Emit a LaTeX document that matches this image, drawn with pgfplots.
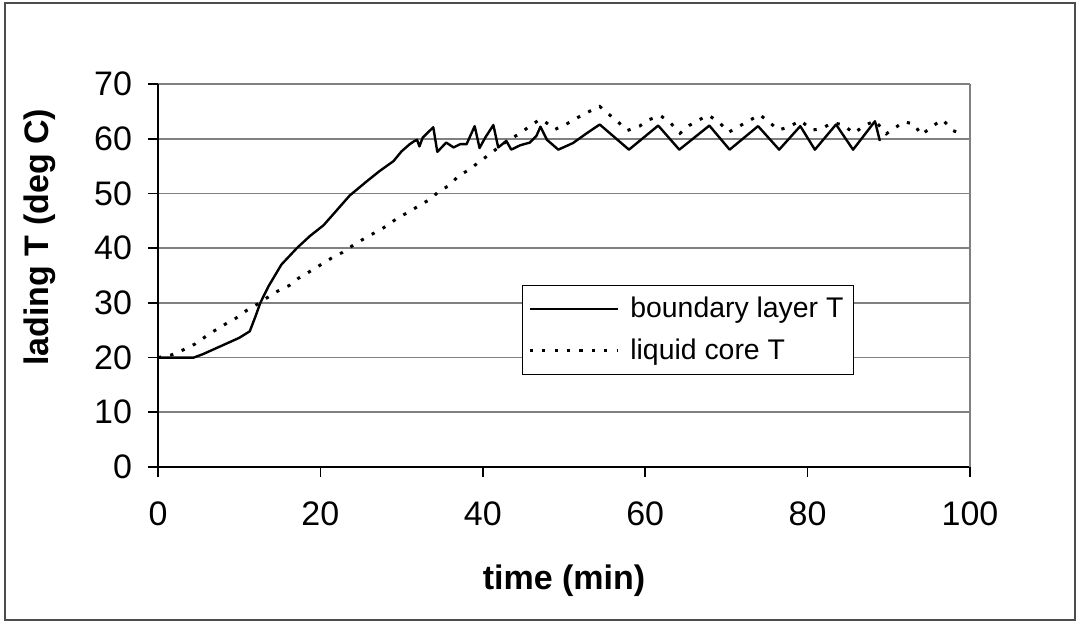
\documentclass[border=0pt]{standalone}
\usepackage{pgfplots}
\pgfplotsset{compat=1.18}
\usepackage{pgfplotstable}
\usepackage{fontspec}
\setmainfont{Liberation Sans}

\pgfplotstableread{
x y
0 20
4.4 20
5.5 20.6
7 21.6
8.5 22.6
10 23.6
11.3 24.8
12.0 27.5
12.6 30
13.6 33
15.2 37
17.1 40
18.7 42.2
20.4 44.2
22 46.9
23.6 49.6
25.7 52.2
27.3 54.1
29.0 55.9
30.0 57.7
31.0 59.0
31.5 59.5
31.9 59.8
32.2 58.6
32.6 60.2
33.9 62.1
34.4 57.6
35.5 59.3
36.4 58.4
37.2 59.0
38.0 59.0
39.0 62.3
39.6 58.3
40.3 60.2
41.3 62.5
41.9 58.4
42.9 59.6
43.5 58.0
44.6 58.8
45.8 59.3
46.6 60.5
47.1 62.2
47.9 59.8
49.3 58.0
51.1 59.2
52.8 61.0
54.4 62.6
58.0 58.0
61.6 62.4
64.2 58.0
67.9 62.4
70.4 58.0
73.9 62.3
76.5 58.0
79.1 62.3
80.9 58.0
83.5 62.6
85.6 58.0
88.3 63.2
88.9 59.6
}\boundary

\pgfplotstableread{
x y
0 20
1.7 20.5
3.1 21.4
4.6 22.5
6.2 24.2
7.8 25.7
9.6 27.2
11.0 28.7
12.4 29.9
14.4 31.9
16.2 33.2
17.3 34.5
18.9 35.9
20.4 37.3
21.5 38.3
22.7 39.2
24.1 40.6
25.8 42.1
27.3 43.3
28.2 44.1
29.5 45.5
31.0 46.7
32.5 48.1
33.5 48.9
34.6 50.4
35.8 51.4
37.0 53.2
38.4 54.4
39.4 55.6
40.7 57.0
42.0 58.5
43.2 59.8
44.4 60.8
45.8 62.3
47.0 63.5
47.3 63.5
48.9 61.7
50.2 62.6
51.6 63.8
53.0 64.9
54.4 65.9
55.5 64.5
56.7 63.0
57.8 61.5
59.3 62.3
60.5 63.5
61.9 64.2
63.1 62.9
64.3 61.0
65.4 62.4
66.7 63.5
67.8 64.3
69.1 63.0
70.3 61.2
71.6 62.3
72.8 63.3
74.1 64.4
75.3 63.0
76.4 61.6
77.6 62.1
79.1 63.3
80.6 61.6
81.7 61.8
83.0 62.9
84.3 62.6
85.7 61.0
86.9 62.3
88.3 63.3
89.7 60.9
90.8 62.0
91.8 63.1
93.1 62.7
94.0 60.7
95.5 62.4
96.6 63.5
97.9 61.5
98.7 61.0
99.2 61.5
}\core

\begin{document}
\begin{tikzpicture}
\useasboundingbox (0,0) rectangle (539pt,312pt);
\draw[black!70, line width=1pt] (2.25pt,2pt) rectangle (537.5pt,310.5pt);
\begin{axis}[
  at={(79pt,78.5pt)}, anchor=south west,
  scale only axis, width=406pt, height=191.5pt,
  xmin=0, xmax=100, ymin=0, ymax=70,
  axis lines=left,
  axis line style={-, black, line width=0.8pt},
  xtick={0,20,40,60,80}, extra x ticks={100},
  extra x tick style={grid=major, major grid style={black!50, line width=1pt}},
  ytick={0,10,...,70},
  ymajorgrids,
  major grid style={black!50, line width=0.8pt},
  tick align=outside, major tick length=5pt,
  tick style={black, line width=0.8pt},
  /pgf/number format/assume math mode=true,
  ticklabel style={font=\fontsize{17}{20}\selectfont},
  yticklabel style={xshift=-4.5pt},
  xticklabel style={yshift=-9pt},
  xlabel={\textbf{time (min)}},
  ylabel={\textbf{lading T (deg C)}},
  every axis x label/.style={at={(axis description cs:0.5,-0.2977)}, anchor=center, font=\fontsize{17}{20}\selectfont},
  every axis y label/.style={at={(axis description cs:-0.1453,0.6)}, anchor=center, rotate=90, font=\fontsize{17}{20}\selectfont},
  legend style={at={(0.448,0.476)}, anchor=north west, draw=black, line width=0.6pt, fill=white,
    font=\fontsize{14.2}{17}\selectfont, inner xsep=3pt, inner ysep=4pt, row sep=5pt},
  legend cell align=left,
  legend image code/.code={\draw[#1] (0pt,0pt) -- (44pt,0pt); \path (47.5pt,0pt);},
  clip=false,
]
\addplot[black, line width=1.2pt, line join=round] table[x=x,y=y] {\boundary};
\addlegendentry{boundary layer T}
\addplot[black, line width=1.5pt, dash pattern=on 1.6pt off 4.6pt] table[x=x,y=y] {\core};
\addlegendentry{liquid core T}
\end{axis}
\end{tikzpicture}
\end{document}
